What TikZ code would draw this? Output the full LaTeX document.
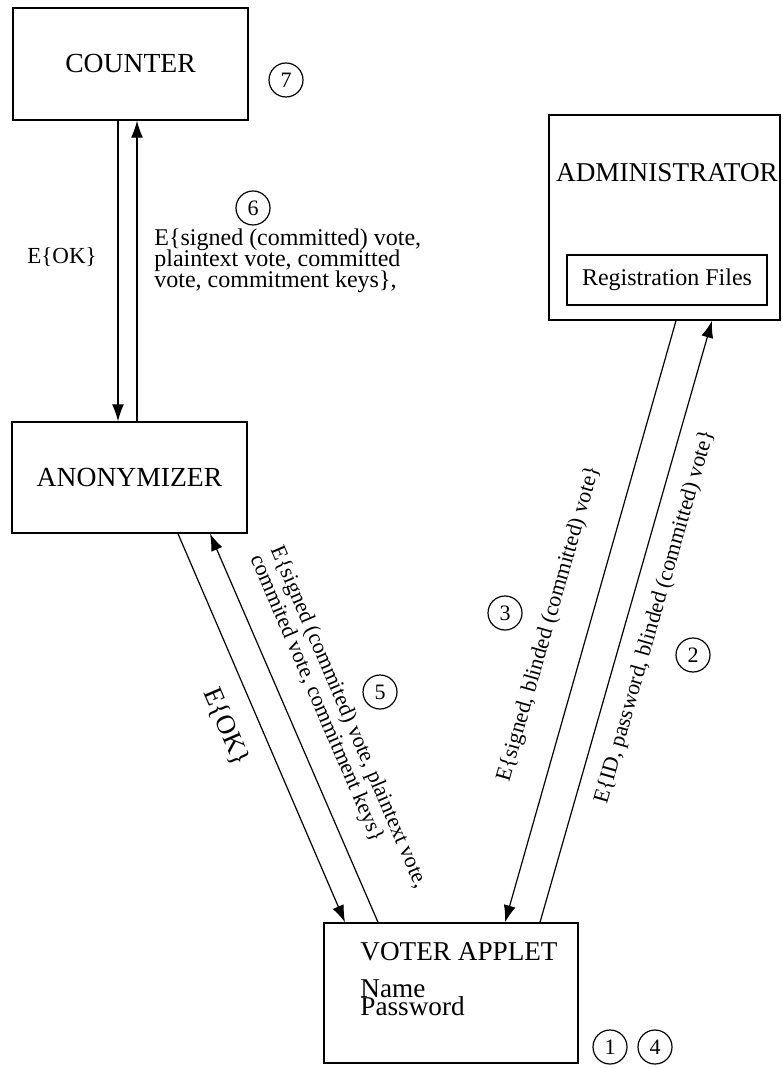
\documentclass[tikz,border=0pt]{standalone}
\usepackage{fontspec}
\setmainfont{Liberation Serif}
\usetikzlibrary{arrows.meta,calc}
\lineskiplimit=-10pt

\tikzset{
  unit/.style={draw, line width=0.7pt, inner sep=0pt, font=\fontsize{13.8}{15}\selectfont},
  flow/.style={-{Latex[length=8.5pt,width=6pt]}, line width=0.6pt},
  stepnum/.style={draw, circle, line width=0.6pt, minimum size=17pt, inner sep=0pt, font=\fontsize{11}{11}\selectfont},
  msg/.style={inner sep=0pt, align=left, font=\fontsize{11}{11}\selectfont},
}

\begin{document}
\begin{tikzpicture}[x=0.5pt,y=-0.5pt]
\useasboundingbox (0,0) rectangle (782,1068);

\node[unit, minimum width=117.5pt, minimum height=56pt] (counter) at (130.5,64) {COUNTER};
\node[unit, minimum width=117.5pt, minimum height=55.5pt] (anon) at (129.5,477.5) {ANONYMIZER};
\node[unit, minimum width=115.5pt, minimum height=102.5pt] (admin) at (664.5,217.5) {};
\node[font=\fontsize{13.6}{15}\selectfont, inner sep=0pt, anchor=base] (admintitle) at (667,182) {ADMINISTRATOR};
\node[unit, minimum width=100pt, minimum height=25pt, font=\fontsize{12}{13}\selectfont] (regfiles) at (667,280) {Registration Files};
\node[unit, minimum width=127pt, minimum height=70pt] (voter) at (451,993) {};
\node[font=\fontsize{13.6}{15}\selectfont, inner sep=0pt, anchor=base west] (votertitle) at (360,960) {VOTER APPLET};
\node[font=\fontsize{13.6}{15}\selectfont, inner sep=0pt, anchor=base west] (vname) at (360,997) {Name};
\node[font=\fontsize{13.6}{15}\selectfont, inner sep=0pt, anchor=base west] (vpass) at (360,1015) {Password};

% step numbers
\node[stepnum] (s7) at (286,80) {7};
\node[stepnum] (s6) at (253,208) {6};
\node[stepnum] (s5) at (380,692) {5};
\node[stepnum] (s3) at (505,613) {3};
\node[stepnum] (s2) at (693,655) {2};
\node[stepnum] (s1) at (610,1047) {1};
\node[stepnum] (s4) at (655,1047) {4};

% messages
\node[msg, font=\fontsize{11.5}{12}\selectfont] (okup) at (62,257) {E\{OK\}};
\node[msg, anchor=north west, font=\fontsize{12}{10.5}\selectfont] (msgsix) at (154,228)
  {E\{signed (committed) vote,\\ plaintext vote, committed\\ vote, commitment keys\},};
\node[msg, rotate=-66.8, font=\fontsize{13.5}{14}\selectfont] (okdown) at (226,727) {E\{OK\}};
\node[msg, rotate=-66.8] (msgfive) at (338,722)
  {E\{signed (commited) vote, plaintext vote,\\ commited vote, commitment keys\}};
\node[msg, rotate=74] (msgthree) at (549,624) {E\{signed, blinded (committed) vote\}};
\node[msg, rotate=74] (msgtwo) at (655,617) {E\{ID, password, blinded (committed) vote\}};

\draw[flow] ([xshift=-6.25pt]counter.south) -- ([xshift=-5.75pt]anon.north);
\draw[flow] ([xshift=3.75pt]anon.north) -- ([xshift=3.25pt]counter.south);
\draw[flow] ([xshift=24.25pt]anon.south) -- ([xshift=-53pt]voter.north);
\draw[flow] ([xshift=-36.5pt]voter.north) -- ([xshift=40.25pt]anon.south);
\draw[flow] ([xshift=44.5pt]voter.north) -- ([xshift=23.75pt]admin.south);
\draw[flow] ([xshift=5.75pt]admin.south) -- ([xshift=27pt]voter.north);

\end{tikzpicture}
\end{document}
